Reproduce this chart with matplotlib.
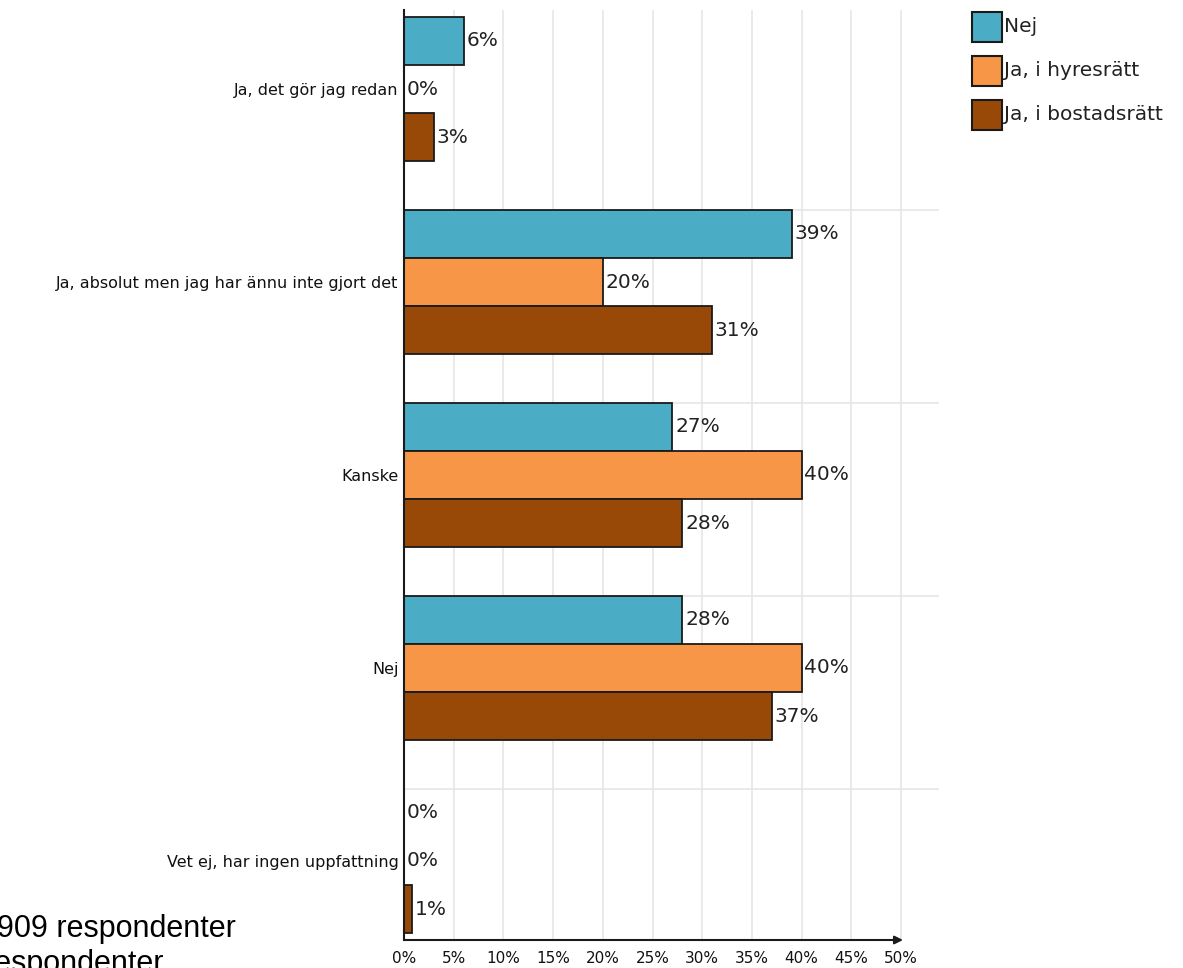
import matplotlib
matplotlib.use("Agg")
import matplotlib.pyplot as plt
from matplotlib.patches import Rectangle
import numpy as np

categories = ["Ja, det gör jag redan",
              "Ja, absolut men jag har ännu inte gjort det",
              "Kanske",
              "Nej",
              "Vet ej, har ingen uppfattning"]
series_names = ["Nej", "Ja, i hyresrätt", "Ja, i bostadsrätt"]
nej_values = [6, 39, 27, 28, 0]
hyresratt_values = [0, 20, 40, 40, 0]
bostadsratt_values = [3, 31, 28, 37, 0.8]
tick_values = [0, 5, 10, 15, 20, 25, 30, 35, 40, 45, 50]
footnote_lines = ["909 respondenter", "respondenter"]

colors = ["#4BACC6", "#F79646", "#984807"]
W, H = 1183, 968
fig = plt.figure(figsize=(W / 100, H / 100), dpi=100)
fig.patch.set_facecolor("white")

left_px, right_px, top_px, bottom_px = 404, 939, 10, 940
ax = fig.add_axes([left_px / W, 1 - bottom_px / H,
                   (right_px - left_px) / W, (bottom_px - top_px) / H])

px_per_unit = (901 - 404) / 50.0
xmax = (right_px - left_px) / px_per_unit
ax.set_xlim(0, xmax)
ax.set_ylim(len(categories) - 1 + 0.41, -0.41)

y = np.arange(len(categories))
h = 0.25
all_series = [nej_values, hyresratt_values, bostadsratt_values]
offsets = [-h, 0, h]

# gridlines
for t in tick_values[1:]:
    ax.axvline(t, color="#e6e6e6", lw=1.2, zorder=0)
for i in range(1, len(categories)):
    ax.axhline(i - 1.5 * h, color="#e6e6e6", lw=1.2, zorder=0)

for vals, off, col in zip(all_series, offsets, colors):
    bars = ax.barh(y + off, vals, height=h, color=col, edgecolor="#1a1a1a",
                   linewidth=1.3, zorder=3)
    for b, v in zip(bars, vals):
        ax.annotate(f"{v:.0f}%", xy=(v, b.get_y() + h / 2), xytext=(2, 0),
                    textcoords="offset points", va="center", ha="left",
                    fontsize=14.5, color="#222222", zorder=4)

ax.set_yticks(y)
ax.set_yticklabels(categories, fontsize=11.5, color="#111111")
ax.set_xticks(tick_values)
ax.set_xticklabels([f"{t}%" for t in tick_values], fontsize=11, color="#111111")
ax.tick_params(axis="both", length=0)
ax.tick_params(axis="y", pad=4)
ax.tick_params(axis="x", pad=8)

for s in ["top", "right", "bottom"]:
    ax.spines[s].set_visible(False)
ax.spines["left"].set_color("#1a1a1a")
ax.spines["left"].set_linewidth(1.5)
ax.spines["left"].set_zorder(5)

# x axis with arrow
ybot = ax.get_ylim()[0]
ax.annotate("", xy=(50.2, ybot), xytext=(0, ybot),
            arrowprops=dict(arrowstyle="-|>", color="#1a1a1a", lw=1.5,
                            mutation_scale=12, shrinkA=0, shrinkB=0),
            annotation_clip=False, zorder=6)

# legend
box = 30
for k, (name, col) in enumerate(zip(series_names, colors)):
    top = 12 + 44 * k
    fig.patches.append(Rectangle((972 / W, 1 - (top + box) / H), box / W, box / H,
                                 transform=fig.transFigure, facecolor=col,
                                 edgecolor="#1a1a1a", linewidth=1.5))
    fig.text(1004 / W, 1 - (top + box / 2) / H, name, fontsize=14.5,
             va="center", ha="left", color="#222222")

# footnote (cut off at left / bottom, as in the reference)
fig.text(236 / W, 1 - 937 / H, footnote_lines[0], fontsize=22,
         family="Liberation Sans", ha="right", va="baseline", color="black")
fig.text(164 / W, 1 - 972 / H, footnote_lines[1], fontsize=22,
         family="Liberation Sans", ha="right", va="baseline", color="black")

fig.savefig("out.png", dpi=100)
